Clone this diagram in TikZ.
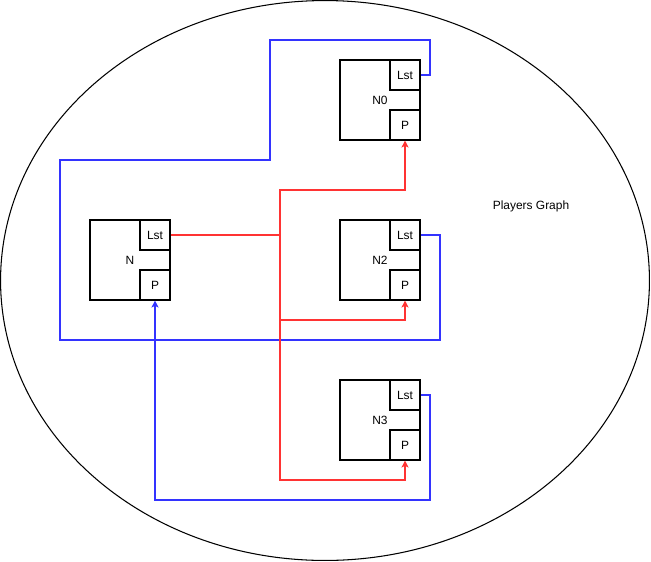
\documentclass[tikz,border=0pt]{standalone}
\usepackage{fontspec}
\setmainfont{Liberation Sans}
\usetikzlibrary{positioning,arrows.meta}

\begin{document}
\begin{tikzpicture}[x=0.02cm,y=-0.02cm,
		every node/.style={font=\fontsize{6.8}{8}\selectfont},
		player/.style={draw,line width=0.6pt,minimum size=1.6cm,inner sep=0pt},
		field/.style={draw,line width=0.6pt,minimum size=0.6cm,inner sep=0pt},
		blueline/.style={draw={rgb,255:red,51;green,51;blue,255},line width=0.6pt},
		redline/.style={draw={rgb,255:red,255;green,51;blue,51},line width=0.6pt},
		tip/.style={-{Stealth[length=4pt,width=4pt,inset=1pt]}}]
			\useasboundingbox (0,0) rectangle (651,561);
			\draw[line width=0.6pt] (325,280.5) ellipse [x radius=6.49cm, y radius=5.6cm];
			\node (title) at (531,206) {Players Graph};
			\node[player] (N) at (130,260) {N};
			\node[field] (NL) at (155,235) {Lst};
			\node[field] (NP) at (155,285) {P};
			\node[player] (N0) at (380,100) {N0};
			\node[field] (N0L) at (405,75) {Lst};
			\node[field] (N0P) at (405,125) {P};
			\node[player] (N2) at (380,260) {N2};
			\node[field] (N2L) at (405,235) {Lst};
			\node[field] (N2P) at (405,285) {P};
			\node[player] (N3) at (380,420) {N3};
			\node[field] (N3L) at (405,395) {Lst};
			\node[field] (N3P) at (405,445) {P};
			\coordinate (hub) at (280,235);
			\coordinate (fork) at (280,320);
			\draw[blueline] (N0L.east) -| (430,40) -| (270,160) -| (60,340) -| (440,235) -- (N2L.east);
			\draw[blueline,tip] (N3L.east) -| (430,500) -| (NP.south);
			\draw[redline,tip] (NL.east) -- (hub) |- (280,190) -| (N0P.south);
			\draw[redline,tip] (fork) -| (N2P.south);
			\draw[redline,tip] (hub) -- (280,480) -| (N3P.south);
\end{tikzpicture}
\end{document}
